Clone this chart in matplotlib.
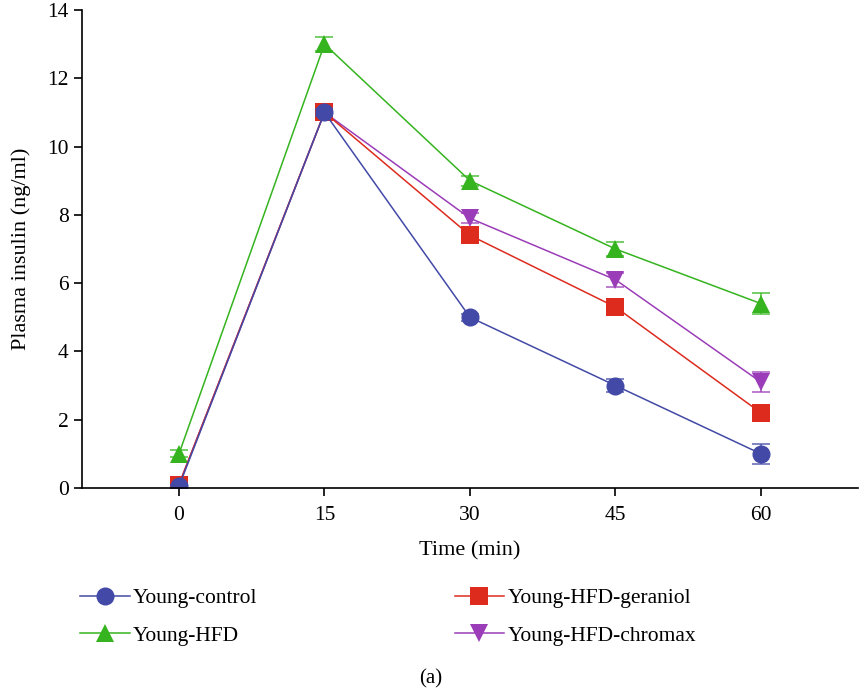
import numpy as np
import matplotlib.pyplot as plt
from matplotlib.lines import Line2D

plt.rcParams['font.family'] = ['Liberation Serif', 'DejaVu Serif']

time = [0, 15, 30, 45, 60]

control = [0.05, 11.0, 5.0, 3.0, 1.0]
control_err = [0.05, 0.1, 0.1, 0.2, 0.3]
hfd = [1.0, 13.0, 9.0, 7.0, 5.4]
hfd_err = [0.1, 0.2, 0.15, 0.2, 0.3]
geraniol = [0.1, 11.0, 7.4, 5.3, 2.2]
geraniol_err = [0.05, 0.1, 0.1, 0.1, 0.1]
chromax = [0.1, 11.0, 7.9, 6.1, 3.1]
chromax_err = [0.05, 0.1, 0.15, 0.2, 0.3]

labels = ['Young-control', 'Young-HFD', 'Young-HFD-geraniol', 'Young-HFD-chromax']
colors = ['#4249a6', '#35b41f', '#dd2b1e', '#9b3db8']
markers = ['o', '^', 's', 'v']

fig = plt.figure(figsize=(8.61, 6.88), dpi=100)
ax = fig.add_axes([0.0952, 0.2907, 0.9013, 0.6948])

series = [(chromax, chromax_err, 3), (geraniol, geraniol_err, 2),
          (hfd, hfd_err, 1), (control, control_err, 0)]
for vals, err, i in series:
    ax.plot(time, vals, color=colors[i], marker=markers[i], markersize=13,
            linewidth=1.1, markeredgewidth=0)
    # caps sit on top of the markers
    ax.errorbar(time, vals, yerr=err, fmt='none', ecolor=colors[i],
                elinewidth=1.1, capsize=6.5, capthick=1.1, alpha=0.85)

ax.set_xlim(-10, 70)
ax.set_ylim(0, 14)
ax.set_xticks(time)
ax.set_yticks(range(0, 15, 2))
ax.spines['top'].set_visible(False)
ax.spines['right'].set_visible(False)
ax.spines['left'].set_linewidth(1.2)
ax.spines['bottom'].set_linewidth(1.2)
ax.tick_params(labelsize=15.5, length=6, width=1.2)
ax.tick_params(axis='x', pad=7)
ax.set_xlabel('Time (min)', fontsize=16, labelpad=12)
ax.set_ylabel('Plasma insulin (ng/ml)', fontsize=16, labelpad=12)

handles = [Line2D([], [], color=colors[i], marker=markers[i], markersize=13,
                  markeredgewidth=0, linewidth=1.1) for i in range(4)]
leg_kw = dict(frameon=False, fontsize=15.5, handlelength=2.3, handletextpad=0.15,
              labelspacing=0.8, loc='upper left', borderaxespad=0, borderpad=0)
fig.legend(handles[:2], labels[:2], bbox_to_anchor=(0.093, 0.145), **leg_kw)
fig.legend(handles[2:], labels[2:], bbox_to_anchor=(0.528, 0.145), **leg_kw)

fig.text(0.5, 0.014, '(a)', ha='center', va='center', fontsize=15)

fig.savefig('out.png', dpi=100)
